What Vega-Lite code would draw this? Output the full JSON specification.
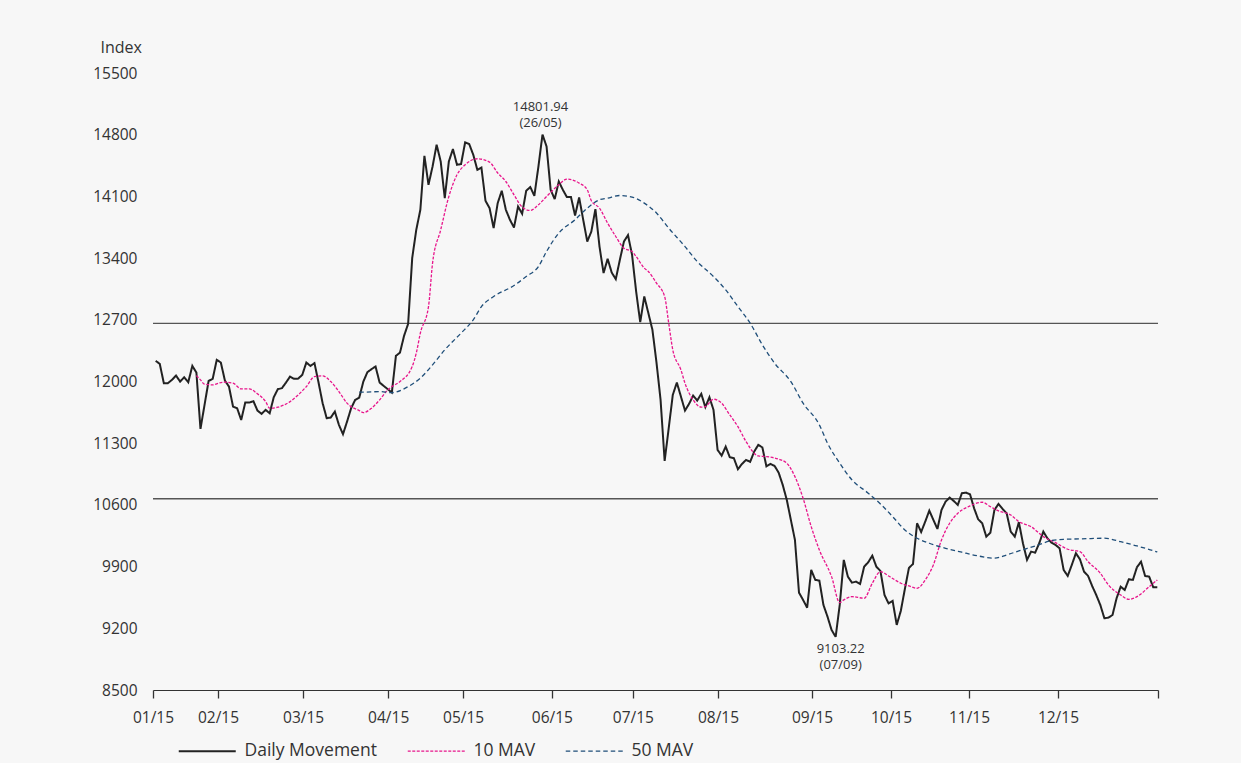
{
  "$schema": "https://vega.github.io/schema/vega-lite/v6.json",
  "width": 1005,
  "height": 617,
  "autosize": {"type": "none"},
  "padding": {"left": 153, "top": 73, "right": 83, "bottom": 73},
  "background": "#f7f7f7",
  "config": {
    "view": {"stroke": null},
    "font": "Open Sans",
    "text": {"font": "Open Sans"}
  },
  "datasets": {
    "rules": [{"v": 12660}, {"v": 10670}],
    "notes": [
      {"d": 95, "v": 14801.94, "t": ["14801.94", "(26/05)"], "pos": "top"},
      {"d": 167, "v": 9103.22, "t": ["9103.22", "(07/09)"], "pos": "bottom"}
    ],
    "series": [
      {"s":"D","d":0,"v":12234},{"s":"D","d":1,"v":12200},{"s":"D","d":2,"v":11981},{"s":"D","d":3,"v":11981},{"s":"D","d":4,"v":12019},{"s":"D","d":5,"v":12067},{"s":"D","d":6,"v":11999},{"s":"D","d":7,"v":12049},{"s":"D","d":8,"v":11992},{"s":"D","d":9,"v":12177},
      {"s":"D","d":10,"v":12101},{"s":"D","d":11,"v":11462},{"s":"D","d":12,"v":11735},{"s":"D","d":13,"v":12007},{"s":"D","d":14,"v":12030},{"s":"D","d":15,"v":12246},{"s":"D","d":16,"v":12215},{"s":"D","d":17,"v":12011},{"s":"D","d":18,"v":11942},{"s":"D","d":19,"v":11715},
      {"s":"D","d":20,"v":11697},{"s":"D","d":21,"v":11564},{"s":"D","d":22,"v":11761},{"s":"D","d":23,"v":11761},{"s":"D","d":24,"v":11777},{"s":"D","d":25,"v":11670},{"s":"D","d":26,"v":11633},{"s":"D","d":27,"v":11678},{"s":"D","d":28,"v":11640},{"s":"D","d":29,"v":11822},
      {"s":"D","d":30,"v":11913},{"s":"D","d":31,"v":11924},{"s":"D","d":32,"v":11988},{"s":"D","d":33,"v":12056},{"s":"D","d":34,"v":12030},{"s":"D","d":35,"v":12033},{"s":"D","d":36,"v":12075},{"s":"D","d":37,"v":12215},{"s":"D","d":38,"v":12177},{"s":"D","d":39,"v":12208},
      {"s":"D","d":40,"v":11988},{"s":"D","d":41,"v":11754},{"s":"D","d":42,"v":11584},{"s":"D","d":43,"v":11591},{"s":"D","d":44,"v":11659},{"s":"D","d":45,"v":11508},{"s":"D","d":46,"v":11402},{"s":"D","d":47,"v":11545},{"s":"D","d":48,"v":11697},{"s":"D","d":49,"v":11792},
      {"s":"D","d":50,"v":11818},{"s":"D","d":51,"v":11999},{"s":"D","d":52,"v":12106},{"s":"D","d":53,"v":12140},{"s":"D","d":54,"v":12170},{"s":"D","d":55,"v":11988},{"s":"D","d":56,"v":11950},{"s":"D","d":57,"v":11913},{"s":"D","d":58,"v":11874},{"s":"D","d":59,"v":12291},
      {"s":"D","d":60,"v":12328},{"s":"D","d":61,"v":12518},{"s":"D","d":62,"v":12654},{"s":"D","d":63,"v":13400},{"s":"D","d":64,"v":13721},{"s":"D","d":65,"v":13948},{"s":"D","d":66,"v":14561},{"s":"D","d":67,"v":14232},{"s":"D","d":68,"v":14439},{"s":"D","d":69,"v":14686},
      {"s":"D","d":70,"v":14496},{"s":"D","d":71,"v":14081},{"s":"D","d":72,"v":14496},{"s":"D","d":73,"v":14637},{"s":"D","d":74,"v":14459},{"s":"D","d":75,"v":14467},{"s":"D","d":76,"v":14712},{"s":"D","d":77,"v":14694},{"s":"D","d":78,"v":14572},{"s":"D","d":79,"v":14402},
      {"s":"D","d":80,"v":14428},{"s":"D","d":81,"v":14050},{"s":"D","d":82,"v":13967},{"s":"D","d":83,"v":13740},{"s":"D","d":84,"v":14024},{"s":"D","d":85,"v":14164},{"s":"D","d":86,"v":13948},{"s":"D","d":87,"v":13835},{"s":"D","d":88,"v":13747},{"s":"D","d":89,"v":13985},
      {"s":"D","d":90,"v":13903},{"s":"D","d":91,"v":14164},{"s":"D","d":92,"v":14206},{"s":"D","d":93,"v":14107},{"s":"D","d":94,"v":14439},{"s":"D","d":95,"v":14801.94},{"s":"D","d":96,"v":14666},{"s":"D","d":97,"v":14175},{"s":"D","d":98,"v":14069},{"s":"D","d":99,"v":14269},
      {"s":"D","d":100,"v":14175},{"s":"D","d":101,"v":14092},{"s":"D","d":102,"v":14092},{"s":"D","d":103,"v":13883},{"s":"D","d":104,"v":14088},{"s":"D","d":105,"v":13835},{"s":"D","d":106,"v":13588},{"s":"D","d":107,"v":13702},{"s":"D","d":108,"v":13956},{"s":"D","d":109,"v":13531},
      {"s":"D","d":110,"v":13230},{"s":"D","d":111,"v":13392},{"s":"D","d":112,"v":13236},{"s":"D","d":113,"v":13161},{"s":"D","d":114,"v":13380},{"s":"D","d":115,"v":13588},{"s":"D","d":116,"v":13661},{"s":"D","d":117,"v":13437},{"s":"D","d":118,"v":13021},{"s":"D","d":119,"v":12673},
      {"s":"D","d":120,"v":12964},{"s":"D","d":121,"v":12776},{"s":"D","d":122,"v":12586},{"s":"D","d":123,"v":12215},{"s":"D","d":124,"v":11792},{"s":"D","d":125,"v":11099},{"s":"D","d":126,"v":11470},{"s":"D","d":127,"v":11848},{"s":"D","d":128,"v":11988},{"s":"D","d":129,"v":11829},
      {"s":"D","d":130,"v":11670},{"s":"D","d":131,"v":11746},{"s":"D","d":132,"v":11840},{"s":"D","d":133,"v":11784},{"s":"D","d":134,"v":11860},{"s":"D","d":135,"v":11709},{"s":"D","d":136,"v":11822},{"s":"D","d":137,"v":11678},{"s":"D","d":138,"v":11224},{"s":"D","d":139,"v":11159},
      {"s":"D","d":140,"v":11261},{"s":"D","d":141,"v":11141},{"s":"D","d":142,"v":11130},{"s":"D","d":143,"v":11005},{"s":"D","d":144,"v":11065},{"s":"D","d":145,"v":11111},{"s":"D","d":146,"v":11088},{"s":"D","d":147,"v":11205},{"s":"D","d":148,"v":11281},{"s":"D","d":149,"v":11252},
      {"s":"D","d":150,"v":11037},{"s":"D","d":151,"v":11065},{"s":"D","d":152,"v":11042},{"s":"D","d":153,"v":10966},{"s":"D","d":154,"v":10827},{"s":"D","d":155,"v":10657},{"s":"D","d":156,"v":10430},{"s":"D","d":157,"v":10203},{"s":"D","d":158,"v":9604},{"s":"D","d":159,"v":9522},
      {"s":"D","d":160,"v":9434},{"s":"D","d":161,"v":9862},{"s":"D","d":162,"v":9749},{"s":"D","d":163,"v":9741},{"s":"D","d":164,"v":9465},{"s":"D","d":165,"v":9332},{"s":"D","d":166,"v":9181},{"s":"D","d":167,"v":9103.22},{"s":"D","d":168,"v":9465},{"s":"D","d":169,"v":9976},
      {"s":"D","d":170,"v":9786},{"s":"D","d":171,"v":9718},{"s":"D","d":172,"v":9729},{"s":"D","d":173,"v":9703},{"s":"D","d":174,"v":9899},{"s":"D","d":175,"v":9949},{"s":"D","d":176,"v":10024},{"s":"D","d":177,"v":9899},{"s":"D","d":178,"v":9851},{"s":"D","d":179,"v":9578},
      {"s":"D","d":180,"v":9482},{"s":"D","d":181,"v":9510},{"s":"D","d":182,"v":9238},{"s":"D","d":183,"v":9397},{"s":"D","d":184,"v":9646},{"s":"D","d":185,"v":9885},{"s":"D","d":186,"v":9930},{"s":"D","d":187,"v":10392},{"s":"D","d":188,"v":10293},{"s":"D","d":189,"v":10410},
      {"s":"D","d":190,"v":10535},{"s":"D","d":191,"v":10430},{"s":"D","d":192,"v":10327},{"s":"D","d":193,"v":10543},{"s":"D","d":194,"v":10637},{"s":"D","d":195,"v":10683},{"s":"D","d":196,"v":10645},{"s":"D","d":197,"v":10600},{"s":"D","d":198,"v":10733},{"s":"D","d":199,"v":10739},
      {"s":"D","d":200,"v":10721},{"s":"D","d":201,"v":10562},{"s":"D","d":202,"v":10437},{"s":"D","d":203,"v":10392},{"s":"D","d":204,"v":10240},{"s":"D","d":205,"v":10285},{"s":"D","d":206,"v":10543},{"s":"D","d":207,"v":10611},{"s":"D","d":208,"v":10554},{"s":"D","d":209,"v":10505},
      {"s":"D","d":210,"v":10297},{"s":"D","d":211,"v":10240},{"s":"D","d":212,"v":10403},{"s":"D","d":213,"v":10165},{"s":"D","d":214,"v":9976},{"s":"D","d":215,"v":10070},{"s":"D","d":216,"v":10058},{"s":"D","d":217,"v":10165},{"s":"D","d":218,"v":10297},{"s":"D","d":219,"v":10222},
      {"s":"D","d":220,"v":10172},{"s":"D","d":221,"v":10146},{"s":"D","d":222,"v":10108},{"s":"D","d":223,"v":9862},{"s":"D","d":224,"v":9794},{"s":"D","d":225,"v":9919},{"s":"D","d":226,"v":10052},{"s":"D","d":227,"v":9983},{"s":"D","d":228,"v":9843},{"s":"D","d":229,"v":9794},
      {"s":"D","d":230,"v":9680},{"s":"D","d":231,"v":9578},{"s":"D","d":232,"v":9465},{"s":"D","d":233,"v":9314},{"s":"D","d":234,"v":9321},{"s":"D","d":235,"v":9351},{"s":"D","d":236,"v":9541},{"s":"D","d":237,"v":9672},{"s":"D","d":238,"v":9635},{"s":"D","d":239,"v":9756},
      {"s":"D","d":240,"v":9749},{"s":"D","d":241,"v":9893},{"s":"D","d":242,"v":9956},{"s":"D","d":243,"v":9794},{"s":"D","d":244,"v":9786},{"s":"D","d":245,"v":9666},{"s":"D","d":246,"v":9666},
      {"s":"M10","d":10,"v":12067},{"s":"M10","d":11,"v":12019},{"s":"M10","d":12,"v":11970},{"s":"M10","d":14,"v":11962},{"s":"M10","d":16,"v":11988},{"s":"M10","d":17,"v":11992},{"s":"M10","d":19,"v":11981},{"s":"M10","d":21,"v":11916},{"s":"M10","d":23,"v":11916},{"s":"M10","d":25,"v":11860},
      {"s":"M10","d":27,"v":11772},{"s":"M10","d":28,"v":11697},{"s":"M10","d":30,"v":11709},{"s":"M10","d":33,"v":11772},{"s":"M10","d":35,"v":11848},{"s":"M10","d":37,"v":11942},{"s":"M10","d":39,"v":12056},{"s":"M10","d":41,"v":12064},{"s":"M10","d":43,"v":11999},{"s":"M10","d":45,"v":11886},
      {"s":"M10","d":47,"v":11754},{"s":"M10","d":50,"v":11670},{"s":"M10","d":51,"v":11647},{"s":"M10","d":53,"v":11697},{"s":"M10","d":55,"v":11792},{"s":"M10","d":57,"v":11905},{"s":"M10","d":58,"v":11942},{"s":"M10","d":60,"v":11999},{"s":"M10","d":63,"v":12170},{"s":"M10","d":64,"v":12322},
      {"s":"M10","d":65,"v":12549},{"s":"M10","d":67,"v":12850},{"s":"M10","d":68,"v":13343},{"s":"M10","d":70,"v":13721},{"s":"M10","d":72,"v":14099},{"s":"M10","d":74,"v":14345},{"s":"M10","d":76,"v":14459},{"s":"M10","d":79,"v":14527},{"s":"M10","d":82,"v":14489},{"s":"M10","d":84,"v":14365},
      {"s":"M10","d":86,"v":14269},{"s":"M10","d":88,"v":14118},{"s":"M10","d":90,"v":13979},{"s":"M10","d":92,"v":13940},{"s":"M10","d":94,"v":14005},{"s":"M10","d":96,"v":14099},{"s":"M10","d":99,"v":14232},{"s":"M10","d":101,"v":14296},{"s":"M10","d":104,"v":14251},{"s":"M10","d":106,"v":14175},
      {"s":"M10","d":107,"v":14050},{"s":"M10","d":109,"v":13967},{"s":"M10","d":111,"v":13797},{"s":"M10","d":113,"v":13645},{"s":"M10","d":115,"v":13513},{"s":"M10","d":117,"v":13475},{"s":"M10","d":118,"v":13418},{"s":"M10","d":120,"v":13286},{"s":"M10","d":121,"v":13248},{"s":"M10","d":123,"v":13116},
      {"s":"M10","d":125,"v":12964},{"s":"M10","d":126,"v":12662},{"s":"M10","d":127,"v":12359},{"s":"M10","d":129,"v":12132},{"s":"M10","d":130,"v":11981},{"s":"M10","d":132,"v":11792},{"s":"M10","d":134,"v":11709},{"s":"M10","d":135,"v":11715},{"s":"M10","d":137,"v":11799},{"s":"M10","d":139,"v":11754},
      {"s":"M10","d":141,"v":11621},{"s":"M10","d":143,"v":11488},{"s":"M10","d":145,"v":11318},{"s":"M10","d":148,"v":11156},{"s":"M10","d":150,"v":11148},{"s":"M10","d":153,"v":11118},{"s":"M10","d":155,"v":11073},{"s":"M10","d":157,"v":10921},{"s":"M10","d":159,"v":10676},{"s":"M10","d":161,"v":10353},
      {"s":"M10","d":163,"v":10089},{"s":"M10","d":166,"v":9786},{"s":"M10","d":168,"v":9491},{"s":"M10","d":169,"v":9522},{"s":"M10","d":171,"v":9559},{"s":"M10","d":174,"v":9541},{"s":"M10","d":176,"v":9711},{"s":"M10","d":178,"v":9843},{"s":"M10","d":180,"v":9794},{"s":"M10","d":183,"v":9711},
      {"s":"M10","d":185,"v":9680},{"s":"M10","d":187,"v":9654},{"s":"M10","d":189,"v":9749},{"s":"M10","d":191,"v":9919},{"s":"M10","d":193,"v":10203},{"s":"M10","d":195,"v":10392},{"s":"M10","d":197,"v":10505},{"s":"M10","d":200,"v":10588},{"s":"M10","d":203,"v":10630},{"s":"M10","d":205,"v":10580},
      {"s":"M10","d":207,"v":10532},{"s":"M10","d":210,"v":10486},{"s":"M10","d":212,"v":10410},{"s":"M10","d":215,"v":10353},{"s":"M10","d":218,"v":10240},{"s":"M10","d":221,"v":10172},{"s":"M10","d":224,"v":10097},{"s":"M10","d":227,"v":10070},{"s":"M10","d":229,"v":9956},{"s":"M10","d":232,"v":9825},
      {"s":"M10","d":234,"v":9692},{"s":"M10","d":237,"v":9578},{"s":"M10","d":239,"v":9529},{"s":"M10","d":241,"v":9559},{"s":"M10","d":244,"v":9672},{"s":"M10","d":246,"v":9749},
      {"s":"M50","d":50,"v":11879},{"s":"M50","d":53,"v":11882},{"s":"M50","d":55,"v":11886},{"s":"M50","d":58,"v":11874},{"s":"M50","d":62,"v":11942},{"s":"M50","d":65,"v":12038},{"s":"M50","d":68,"v":12189},{"s":"M50","d":71,"v":12359},{"s":"M50","d":75,"v":12549},{"s":"M50","d":78,"v":12700},
      {"s":"M50","d":80,"v":12850},{"s":"M50","d":83,"v":12964},{"s":"M50","d":88,"v":13089},{"s":"M50","d":91,"v":13191},{"s":"M50","d":94,"v":13304},{"s":"M50","d":96,"v":13475},{"s":"M50","d":99,"v":13684},{"s":"M50","d":103,"v":13835},{"s":"M50","d":106,"v":13967},{"s":"M50","d":109,"v":14062},
      {"s":"M50","d":111,"v":14081},{"s":"M50","d":114,"v":14110},{"s":"M50","d":117,"v":14092},{"s":"M50","d":120,"v":14024},{"s":"M50","d":123,"v":13911},{"s":"M50","d":126,"v":13740},{"s":"M50","d":130,"v":13531},{"s":"M50","d":133,"v":13361},{"s":"M50","d":137,"v":13191},{"s":"M50","d":140,"v":13040},
      {"s":"M50","d":143,"v":12850},{"s":"M50","d":146,"v":12662},{"s":"M50","d":149,"v":12416},{"s":"M50","d":152,"v":12208},{"s":"M50","d":156,"v":11999},{"s":"M50","d":159,"v":11754},{"s":"M50","d":163,"v":11508},{"s":"M50","d":165,"v":11300},{"s":"M50","d":168,"v":11073},{"s":"M50","d":171,"v":10884},
      {"s":"M50","d":175,"v":10733},{"s":"M50","d":178,"v":10611},{"s":"M50","d":181,"v":10467},{"s":"M50","d":184,"v":10316},{"s":"M50","d":187,"v":10222},{"s":"M50","d":190,"v":10165},{"s":"M50","d":194,"v":10108},{"s":"M50","d":198,"v":10063},{"s":"M50","d":202,"v":10021},{"s":"M50","d":206,"v":9995},
      {"s":"M50","d":209,"v":10032},{"s":"M50","d":212,"v":10078},{"s":"M50","d":216,"v":10134},{"s":"M50","d":220,"v":10195},{"s":"M50","d":223,"v":10210},{"s":"M50","d":227,"v":10214},{"s":"M50","d":233,"v":10222},{"s":"M50","d":237,"v":10183},{"s":"M50","d":241,"v":10134},{"s":"M50","d":245,"v":10081},
      {"s":"M50","d":246,"v":10066}
    ]
  },
  "encoding": {
    "x": {
      "field": "d",
      "type": "quantitative",
      "scale": {"domain": [-0.66, 246.17], "nice": false, "zero": false},
      "axis": {
        "title": null,
        "values": [-0.66, 15.3, 36.2, 57.1, 75.5, 97.3, 117.2, 138.1, 161.2, 180.6, 199.75, 221.6, 246.17],
        "labelExpr": "datum.value < 5 ? '01/15' : datum.value < 25 ? '02/15' : datum.value < 45 ? '03/15' : datum.value < 65 ? '04/15' : datum.value < 85 ? '05/15' : datum.value < 105 ? '06/15' : datum.value < 125 ? '07/15' : datum.value < 150 ? '08/15' : datum.value < 170 ? '09/15' : datum.value < 190 ? '10/15' : datum.value < 210 ? '11/15' : datum.value < 230 ? '12/15' : ''",
        "grid": false,
        "labelFlush": false,
        "labelOverlap": false,
        "domainColor": "#333333",
        "domainWidth": 1.2,
        "tickColor": "#333333",
        "tickWidth": 1.3,
        "tickSize": 8,
        "labelFontSize": 15.5,
        "labelColor": "#333333",
        "labelPadding": 12
      }
    },
    "y": {
      "field": "v",
      "type": "quantitative",
      "scale": {"domain": [8500, 15500], "nice": false, "zero": false},
      "axis": {
        "title": "Index",
        "titleAngle": 0,
        "titleX": -53,
        "titleY": -26,
        "titleAlign": "left",
        "titleBaseline": "middle",
        "titleFontSize": 16,
        "titleFontWeight": "normal",
        "titleColor": "#333333",
        "values": [8500, 9200, 9900, 10600, 11300, 12000, 12700, 13400, 14100, 14800, 15500],
        "format": "d",
        "labelFontSize": 15.5,
        "labelColor": "#333333",
        "ticks": false,
        "domain": false,
        "grid": false,
        "labelPadding": 16
      }
    }
  },
  "layer": [
    {
      "data": {"name": "rules"},
      "mark": {"type": "rule", "color": "#555555", "strokeWidth": 1.4},
      "encoding": {"x": null}
    },
    {
      "data": {"name": "series"},
      "transform": [{"filter": "datum.s == 'D'"}],
      "mark": {"type": "line", "strokeWidth": 2, "strokeJoin": "miter", "strokeMiterLimit": 3},
      "encoding": {
        "color": {
          "field": "s",
          "type": "nominal",
          "scale": {"domain": ["D", "M10", "M50"], "range": ["#222222", "#e8168c", "#1f4e79"]},
          "legend": {
            "title": null,
            "orient": "none",
            "legendX": 45.5,
            "legendY": 669,
            "direction": "horizontal",
            "columns": 3,
            "symbolType": "stroke",
            "symbolSize": 3249,
            "symbolStrokeWidth": 1.5,
            "labelFontSize": 17.5,
            "labelColor": "#333333",
            "labelOffset": 28.5,
            "columnPadding": 27,
            "labelExpr": "datum.label == 'D' ? 'Daily Movement' : datum.label == 'M10' ? '10 MAV' : '50 MAV'",
            "encode": {"symbols": {"update": {"strokeWidth": {"signal": "datum.value == 'D' ? 2 : 1.2"}}}}
          }
        },
        "strokeDash": {
          "field": "s",
          "type": "nominal",
          "scale": {"domain": ["D", "M10", "M50"], "range": [[1, 0], [3, 1.5], [4.5, 3]]},
          "legend": {
            "title": null,
            "orient": "none",
            "legendX": 45.5,
            "legendY": 669,
            "direction": "horizontal",
            "columns": 3,
            "symbolType": "stroke",
            "symbolSize": 3249,
            "labelFontSize": 17.5,
            "labelColor": "#333333",
            "labelOffset": 28.5,
            "columnPadding": 27,
            "labelExpr": "datum.label == 'D' ? 'Daily Movement' : datum.label == 'M10' ? '10 MAV' : '50 MAV'"
          }
        }
      }
    },
    {
      "data": {"name": "series"},
      "transform": [{"filter": "datum.s != 'D'"}],
      "mark": {"type": "line", "strokeWidth": 1.3, "interpolate": "monotone"},
      "encoding": {
        "color": {"field": "s", "type": "nominal", "scale": {"domain": ["D", "M10", "M50"], "range": ["#222222", "#e8168c", "#1f4e79"]}},
        "strokeDash": {"field": "s", "type": "nominal", "scale": {"domain": ["D", "M10", "M50"], "range": [[1, 0], [3, 1.5], [4.5, 3]]}}
      }
    },
    {
      "data": {"name": "notes"},
      "transform": [{"filter": "datum.pos == 'top'"}],
      "mark": {"type": "text", "fontSize": 13, "color": "#333333", "baseline": "bottom", "dy": -21, "dx": -2, "lineHeight": 16},
      "encoding": {"text": {"field": "t"}}
    },
    {
      "data": {"name": "notes"},
      "transform": [{"filter": "datum.pos == 'bottom'"}],
      "mark": {"type": "text", "fontSize": 13, "color": "#333333", "baseline": "top", "dy": 6, "dx": 5, "lineHeight": 16},
      "encoding": {"text": {"field": "t"}}
    }
  ]
}
